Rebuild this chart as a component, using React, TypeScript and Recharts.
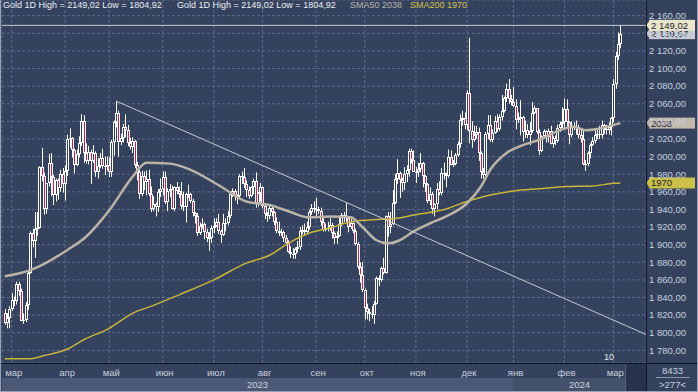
import React from 'react';
import { ComposedChart, Bar, Line, XAxis, YAxis, CartesianGrid, ReferenceLine } from 'recharts';

// bar index of the first trading day in each month (bar 0 = 24 Feb 2023)
const monthLabels = ['мар', 'апр', 'май', 'июн', 'июл', 'авг', 'сен', 'окт', 'ноя', 'дек', 'янв', 'фев', 'мар'];
const monthStarts = [3, 26, 45, 68, 90, 111, 134, 155, 177, 199, 219, 241, 262];
const yearLabels = ['2023', '2024'];

const yTicks = [1780, 1800, 1820, 1840, 1860, 1880, 1900, 1920, 1940, 1960, 1980, 2000, 2020, 2040, 2060, 2080, 2100, 2120, 2140, 2160];

const open = [
  1822, 1811, 1817,
  1827, 1837, 1836, 1855, 1847, 1813, 1814, 1831, 1868, 1913, 1904, 1918, 1919, 1988, 1978, 1940, 1970, 1993, 1977, 1956, 1973, 1964, 1980,
  1969, 1984, 2020, 2021, 2008, 1990, 2003, 2015, 2040, 2004, 1995, 2005, 1995, 2004, 1983, 1989, 1998, 1989, 1989,
  1990, 1983, 2017, 2039, 2050, 2017, 2021, 2034, 2030, 2015, 2011, 2018, 1990, 1982, 1958, 1978, 1971, 1975, 1957, 1941, 1946, 1943, 1960,
  1963, 1977, 1948, 1961, 1963, 1940, 1965, 1961, 1957, 1944, 1943, 1958, 1958, 1950, 1936, 1932, 1913, 1921, 1923, 1914, 1907, 1908,
  1919, 1921, 1926, 1915, 1911, 1925, 1925, 1932, 1957, 1961, 1955, 1955, 1978, 1977, 1969, 1962, 1955, 1965, 1972, 1946, 1959,
  1965, 1944, 1935, 1933, 1942, 1937, 1926, 1916, 1913, 1914, 1907, 1902, 1892, 1889, 1889, 1895, 1897, 1916, 1917, 1914, 1920, 1937, 1942,
  1940, 1940, 1938, 1926, 1917, 1919, 1919, 1922, 1913, 1907, 1910, 1924, 1934, 1931, 1930, 1920, 1925, 1916, 1901, 1875, 1865,
  1849, 1828, 1823, 1821, 1820, 1833, 1862, 1860, 1874, 1868, 1932, 1920, 1923, 1947, 1974, 1981, 1973, 1970, 1980, 1985, 2006, 1996,
  1983, 1982, 1986, 1993, 1978, 1969, 1950, 1958, 1940, 1946, 1963, 1959, 1981, 1980, 1978, 1999, 1990, 1992, 2002, 2014, 2041, 2044,
  2036, 2072, 2029, 2019, 2025, 2028, 2004, 1982, 1979, 2026, 2036, 2019, 2027, 2040, 2031, 2045, 2052, 2066, 2077, 2065,
  2062, 2058, 2042, 2043, 2045, 2028, 2030, 2024, 2029, 2049, 2055, 2028, 2006, 2023, 2029, 2022, 2029, 2014, 2021, 2018, 2033, 2037,
  2039, 2054, 2039, 2025, 2035, 2034, 2034, 2024, 2020, 1992, 1992, 2004, 2013, 2018, 2024, 2026, 2024, 2036, 2031, 2030, 2034,
  2044, 2082, 2114, 2128,
];

const high = [
  1827, 1822, 1830,
  1845, 1841, 1858, 1858, 1850, 1822, 1835, 1870, 1915, 1918, 1937, 1937, 1989, 2010, 1982, 1970, 2003, 2004, 1979, 1975, 1975, 1985, 1987,
  1990, 2025, 2032, 2022, 2009, 2008, 2023, 2048, 2047, 2015, 2012, 2008, 2013, 2006, 1998, 2004, 2009, 2000, 2000,
  1999, 2019, 2041, 2063, 2052, 2026, 2037, 2048, 2036, 2021, 2022, 2019, 1994, 1985, 1984, 1983, 1984, 1985, 1966, 1955, 1948, 1963, 1975,
  1983, 1983, 1964, 1969, 1967, 1966, 1971, 1966, 1971, 1960, 1959, 1968, 1959, 1952, 1937, 1936, 1925, 1930, 1925, 1918, 1914, 1922,
  1930, 1930, 1935, 1917, 1935, 1930, 1938, 1959, 1964, 1963, 1957, 1980, 1983, 1987, 1973, 1966, 1966, 1975, 1982, 1960, 1970,
  1966, 1947, 1937, 1946, 1944, 1938, 1931, 1926, 1918, 1916, 1911, 1905, 1898, 1896, 1897, 1904, 1920, 1922, 1924, 1926, 1939, 1946, 1949,
  1953, 1943, 1942, 1930, 1924, 1926, 1930, 1925, 1915, 1915, 1932, 1936, 1937, 1947, 1932, 1930, 1926, 1918, 1903, 1880, 1880,
  1850, 1833, 1827, 1830, 1836, 1864, 1865, 1875, 1885, 1933, 1937, 1937, 1962, 1980, 1997, 1983, 1976, 1988, 1990, 2009, 2009, 2007,
  1988, 1993, 2004, 1994, 1979, 1970, 1965, 1960, 1947, 1970, 1972, 1987, 1993, 1982, 2008, 2007, 1996, 2004, 2017, 2048, 2052, 2050,
  2075, 2135, 2040, 2035, 2035, 2033, 2006, 1987, 2028, 2047, 2047, 2031, 2046, 2048, 2048, 2070, 2068, 2083, 2088, 2070,
  2079, 2065, 2050, 2064, 2046, 2041, 2037, 2039, 2062, 2058, 2055, 2031, 2024, 2031, 2030, 2032, 2035, 2023, 2024, 2036, 2040, 2056,
  2066, 2065, 2040, 2040, 2039, 2041, 2036, 2032, 2031, 1996, 2006, 2015, 2022, 2031, 2030, 2035, 2041, 2037, 2036, 2039, 2045,
  2088, 2119, 2141, 2149.02,
];

const low = [
  1809, 1805, 1804.92,
  1825, 1830, 1832, 1842, 1813, 1810, 1812, 1826, 1867, 1897, 1885, 1910, 1918, 1972, 1934, 1935, 1966, 1955, 1945, 1949, 1951, 1960, 1959,
  1950, 1978, 2010, 1999, 1981, 1989, 1999, 2012, 1993, 1992, 1991, 1969, 1993, 1977, 1975, 1987, 1986, 1979, 1984,
  1977, 1977, 2001, 2033, 2000, 2013, 2016, 2022, 2012, 2008, 2004, 1987, 1973, 1952, 1955, 1962, 1956, 1955, 1937, 1938, 1932, 1937, 1954,
  1956, 1946, 1938, 1954, 1940, 1938, 1957, 1953, 1940, 1938, 1925, 1953, 1947, 1932, 1924, 1910, 1911, 1918, 1906, 1903, 1893, 1902,
  1913, 1920, 1912, 1902, 1910, 1915, 1922, 1930, 1954, 1950, 1946, 1952, 1969, 1964, 1954, 1952, 1954, 1957, 1942, 1943, 1949,
  1941, 1929, 1926, 1929, 1932, 1922, 1913, 1910, 1910, 1903, 1900, 1891, 1885, 1884, 1884, 1891, 1894, 1912, 1910, 1912, 1917, 1934, 1936,
  1930, 1935, 1921, 1915, 1915, 1915, 1916, 1907, 1901, 1901, 1909, 1921, 1926, 1926, 1914, 1918, 1913, 1899, 1872, 1857, 1846,
  1815, 1815, 1813, 1816, 1810, 1832, 1853, 1858, 1866, 1867, 1909, 1913, 1922, 1946, 1969, 1953, 1960, 1962, 1971, 1977, 1992, 1983,
  1970, 1977, 1982, 1965, 1960, 1947, 1945, 1935, 1932, 1940, 1956, 1956, 1974, 1965, 1976, 1990, 1988, 1990, 2000, 2010, 2035, 2031,
  2030, 2015, 2010, 2017, 2020, 1995, 1975, 1975, 1973, 2020, 2017, 2016, 2026, 2028, 2029, 2041, 2050, 2062, 2060, 2058,
  2056, 2031, 2038, 2024, 2017, 2021, 2021, 2013, 2027, 2048, 2026, 2002, 2005, 2021, 2016, 2016, 2014, 2010, 2013, 2016, 2028, 2031,
  2032, 2034, 2014, 2022, 2030, 2025, 2021, 2016, 1990, 1984, 1989, 1998, 2012, 2015, 2020, 2020, 2021, 2026, 2025, 2025, 2024,
  2039, 2077, 2110, 2123,
];

const close = [
  1811, 1817, 1827,
  1837, 1836, 1855, 1847, 1813, 1814, 1831, 1868, 1913, 1904, 1918, 1919, 1988, 1978, 1940, 1970, 1993, 1977, 1956, 1973, 1964, 1980, 1969,
  1984, 2020, 2021, 2008, 1990, 2003, 2015, 2040, 2004, 1995, 2005, 1995, 2004, 1983, 1989, 1998, 1989, 1989, 1990,
  1983, 2017, 2039, 2050, 2017, 2021, 2034, 2030, 2015, 2011, 2018, 1990, 1982, 1958, 1978, 1971, 1975, 1957, 1941, 1946, 1943, 1960, 1963,
  1977, 1948, 1961, 1963, 1940, 1965, 1961, 1957, 1944, 1943, 1958, 1958, 1950, 1936, 1932, 1913, 1921, 1923, 1914, 1907, 1908, 1919,
  1921, 1926, 1915, 1911, 1925, 1925, 1932, 1957, 1961, 1955, 1955, 1978, 1977, 1969, 1962, 1955, 1965, 1972, 1946, 1959, 1965,
  1944, 1935, 1933, 1942, 1937, 1926, 1916, 1913, 1914, 1907, 1902, 1892, 1889, 1889, 1895, 1897, 1916, 1917, 1914, 1920, 1937, 1942, 1940,
  1940, 1938, 1926, 1917, 1919, 1919, 1922, 1913, 1907, 1910, 1924, 1934, 1931, 1930, 1920, 1925, 1916, 1901, 1875, 1865, 1849,
  1828, 1823, 1821, 1820, 1833, 1862, 1860, 1874, 1868, 1932, 1920, 1923, 1947, 1974, 1981, 1973, 1970, 1980, 1985, 2006, 1996, 1983,
  1982, 1986, 1993, 1978, 1969, 1950, 1958, 1940, 1946, 1963, 1959, 1981, 1980, 1978, 1999, 1990, 1992, 2002, 2014, 2041, 2044, 2036,
  2072, 2029, 2019, 2025, 2028, 2004, 1982, 1979, 2026, 2036, 2019, 2027, 2040, 2031, 2045, 2052, 2066, 2077, 2065, 2062,
  2058, 2042, 2043, 2045, 2028, 2030, 2024, 2029, 2049, 2055, 2028, 2006, 2023, 2029, 2022, 2029, 2014, 2021, 2018, 2033, 2037, 2039,
  2054, 2039, 2025, 2035, 2034, 2034, 2024, 2020, 1992, 1992, 2004, 2013, 2018, 2024, 2026, 2024, 2036, 2031, 2030, 2034, 2044,
  2082, 2114, 2128, 2139.57,
];

// moving averages at a few bars
const sma50At = [0, 11, 27, 35, 45, 55, 61, 71, 80, 93, 104, 114, 123, 131, 140, 149, 154, 160, 165, 170, 176, 183, 190, 199, 205, 209, 216, 223, 230, 239, 245, 250, 256, 265];
const sma50 = [1864, 1871, 1894, 1909, 1939, 1977, 1993, 1992, 1985, 1966, 1949, 1945, 1937, 1931, 1932, 1931, 1920, 1905, 1901.5, 1905, 1915, 1924, 1932, 1947, 1966, 1985, 2004, 2013, 2019, 2030, 2034, 2030, 2032, 2038];
const sma200At = [0, 11, 17, 27, 34, 45, 55, 64, 75, 90, 104, 114, 122, 131, 140, 149, 157, 169, 176, 190, 199, 209, 219, 230, 242, 253, 262, 265];
const sma200 = [1770.5, 1770.5, 1774, 1781.5, 1792, 1805, 1822, 1831, 1843, 1860, 1879, 1888, 1901.5, 1913, 1919, 1926, 1928, 1930, 1933.6, 1940.5, 1949, 1956.4, 1961, 1963.5, 1966, 1966.6, 1969.6, 1970];

// trend line from the May high
const trendStart = { k: 48, v: 2063 };
const trendEnd = { k: 276.05, v: 1798 };

const BG = '#34425e';
const RED = '#c4204c';
const FONT = "'Liberation Sans', Arial, sans-serif";
const AXIS_TEXT = '#c9d0dc';

const data = close.map((c, k) => ({
  k,
  o: open[k],
  h: high[k],
  l: low[k],
  c,
  sma50: sma50At.includes(k) ? sma50[sma50At.indexOf(k)] : null,
  sma200: sma200At.includes(k) ? sma200[sma200At.indexOf(k)] : null,
}));

const hiPrice = Math.max(...high);
const loPrice = Math.min(...low);
const lastPrice = close[close.length - 1];

// "2 160,00" with a non-breaking thousands space so the tick stays on one line
const fmtAxis = (v: number) => {
  const [i, d] = v.toFixed(2).split('.');
  const int = i.length > 3 ? i.slice(0, -3) + '\u00a0' + i.slice(-3) : i;
  return `${int},${d}`;
};
const fmtComma = (v: number) => v.toFixed(2).replace('.', ',');

const Candle = (props: any) => {
  const { x, y, width, height, payload } = props;
  if (!payload || height == null || isNaN(y)) return null;
  const { o, h, l, c } = payload;
  const ppu = height / (h - l || 1);
  const cx = Math.round(x + width / 2);
  const yo = y + (h - o) * ppu;
  const yc = y + (h - c) * ppu;
  const top = Math.round(Math.min(yo, yc));
  const bot = Math.round(Math.max(yo, yc));
  const up = c >= o;
  return (
    <g>
      <line x1={cx + 0.5} x2={cx + 0.5} y1={y} y2={y + height} stroke="#ffffff" strokeWidth={1} />
      <rect x={cx - 1} y={top} width={3} height={Math.max(bot - top, 1)} fill="#ffffff" />
      {bot - top > 2 && <rect x={cx} y={top + 1} width={1} height={bot - top - 2} fill={up ? BG : RED} />}
    </g>
  );
};

const Tag = (props: any) => {
  const vb = props.viewBox || {};
  const x0 = (vb.x ?? 0) + (vb.width ?? 0);
  const yc = vb.y ?? 0;
  return (
    <g>
      <polygon points={`${x0},${yc} ${x0 + 4},${yc - 5} ${x0 + 4},${yc + 5}`} fill={props.bg} />
      <rect x={x0 + 3} y={yc - 5.5} width={46} height={11} fill={props.bg} />
      <text x={x0 + 5} y={yc + 3.5} fontSize={9.5} fill="#1c2230" fontFamily={FONT}>{props.text}</text>
    </g>
  );
};

export default function App() {
  return (
    <div style={{ position: 'absolute', left: 0, top: 0, width: 698, height: 392, background: BG, overflow: 'hidden', fontFamily: FONT }}>
      <ComposedChart width={698} height={392} data={data} margin={{ top: 0, right: 0, bottom: 0, left: 2 }}>
        <CartesianGrid stroke="#5c6b8a" strokeDasharray="3 2" />
        <XAxis
          dataKey="k"
          type="number"
          domain={[-1.18, 276.05]}
          allowDataOverflow
          ticks={monthStarts}
          interval={0}
          tickFormatter={(v: number) => monthLabels[monthStarts.indexOf(v)]}
          axisLine={false}
          tickLine={false}
          tickSize={0}
          tickMargin={6}
          height={29}
          tick={{ fill: AXIS_TEXT, fontSize: 9.5, fontFamily: FONT, dx: 2 }}
        />
        <YAxis
          orientation="right"
          type="number"
          domain={[1765.6, 2177.8]}
          allowDataOverflow
          ticks={yTicks}
          interval={0}
          width={52}
          axisLine={false}
          tickLine={false}
          tickSize={0}
          tickMargin={3}
          tickFormatter={fmtAxis}
          tick={{ fill: AXIS_TEXT, fontSize: 9.5, fontFamily: FONT }}
        />
        <Bar dataKey={(d: any) => [d.l, d.h]} barSize={3} shape={(p: any) => <Candle {...p} />} isAnimationActive={false} />
        <Line dataKey="sma200" type="monotone" stroke="#c9b43c" strokeWidth={1.5} dot={false} activeDot={false} connectNulls isAnimationActive={false} />
        <Line dataKey="sma50" type="monotone" stroke="#bab3a6" strokeWidth={2.5} dot={false} activeDot={false} connectNulls isAnimationActive={false} />
        <ReferenceLine
          segment={[{ x: trendStart.k, y: trendStart.v }, { x: trendEnd.k, y: trendEnd.v }]}
          stroke="#c6cbd4"
          strokeWidth={1}
          ifOverflow="visible"
        />
        <ReferenceLine y={sma200[sma200.length - 1]} stroke="none" label={<Tag text={String(sma200[sma200.length - 1])} bg="#cbc04a" />} />
        <ReferenceLine y={sma50[sma50.length - 1]} stroke="none" label={<Tag text={String(sma50[sma50.length - 1])} bg="#c0b8aa" />} />
        <ReferenceLine y={lastPrice} stroke="none" label={<Tag text={fmtAxis(lastPrice)} bg="#c6cad2" />} />
        <ReferenceLine y={hiPrice} stroke="#c4c9d2" strokeWidth={1} label={<Tag text={fmtAxis(hiPrice)} bg="#e9e6cb" />} />
      </ComposedChart>

      {/* legend */}
      <div style={{ position: 'absolute', left: 3, top: 0, fontSize: 9, lineHeight: '11px', color: '#eef0f4', whiteSpace: 'nowrap' }}>
        Gold 1D High = {fmtComma(hiPrice)} Low = {fmtComma(loPrice)}
      </div>
      <div style={{ position: 'absolute', left: 177, top: 0, fontSize: 9, lineHeight: '11px', color: '#eef0f4', whiteSpace: 'nowrap' }}>
        Gold 1D High = {fmtComma(hiPrice)} Low = {fmtComma(loPrice)}
      </div>
      <div style={{ position: 'absolute', left: 350, top: 0, fontSize: 9, lineHeight: '11px', color: '#bcb5a8', whiteSpace: 'nowrap' }}>
        SMA50 {sma50[sma50.length - 1]}
      </div>
      <div style={{ position: 'absolute', left: 410, top: 0, fontSize: 9, lineHeight: '11px', color: '#d8c44a', whiteSpace: 'nowrap' }}>
        SMA200 {sma200[sma200.length - 1]}
      </div>

      <div style={{ position: 'absolute', left: 604, top: 352, fontSize: 9, lineHeight: '10px', color: '#e4e8ee' }}>10</div>

      {/* year row */}
      <div style={{ position: 'absolute', left: 2, top: 378, width: 511, height: 13, background: '#4b5976', color: AXIS_TEXT, fontSize: 9.5, lineHeight: '13px', textAlign: 'center' }}>
        {yearLabels[0]}
      </div>
      <div style={{ position: 'absolute', left: 513, top: 378, width: 133, height: 13, background: '#44516d', color: AXIS_TEXT, fontSize: 9.5, lineHeight: '13px', textAlign: 'center' }}>
        {yearLabels[1]}
      </div>
      <div style={{ position: 'absolute', left: 625, top: 364, width: 21, height: 27, background: '#27334c', borderLeft: '1px solid #56627c' }} />

      {/* separators */}
      <div style={{ position: 'absolute', left: 0, top: 363, width: 698, height: 1, background: '#0e1320' }} />
      <div style={{ position: 'absolute', left: 646, top: 0, width: 1, height: 392, background: '#0e1320' }} />

      {/* bottom right counters */}
      <div style={{ position: 'absolute', left: 647, top: 365, width: 51, fontSize: 9.5, lineHeight: '11px', color: AXIS_TEXT, textAlign: 'center' }}>8433</div>
      <div style={{ position: 'absolute', left: 656, top: 377, width: 34, height: 1, background: '#8c96aa' }} />
      <div style={{ position: 'absolute', left: 647, top: 379, width: 51, fontSize: 9.5, lineHeight: '11px', color: AXIS_TEXT, textAlign: 'center' }}>&gt;277&lt;</div>

      {/* outer frame */}
      <div style={{ position: 'absolute', left: 0, top: 0, width: 698, height: 392, boxSizing: 'border-box', borderLeft: '1px solid #9aa3b6', borderRight: '1px solid #9aa3b6', borderBottom: '1px solid #9aa3b6', pointerEvents: 'none' }} />
    </div>
  );
}
